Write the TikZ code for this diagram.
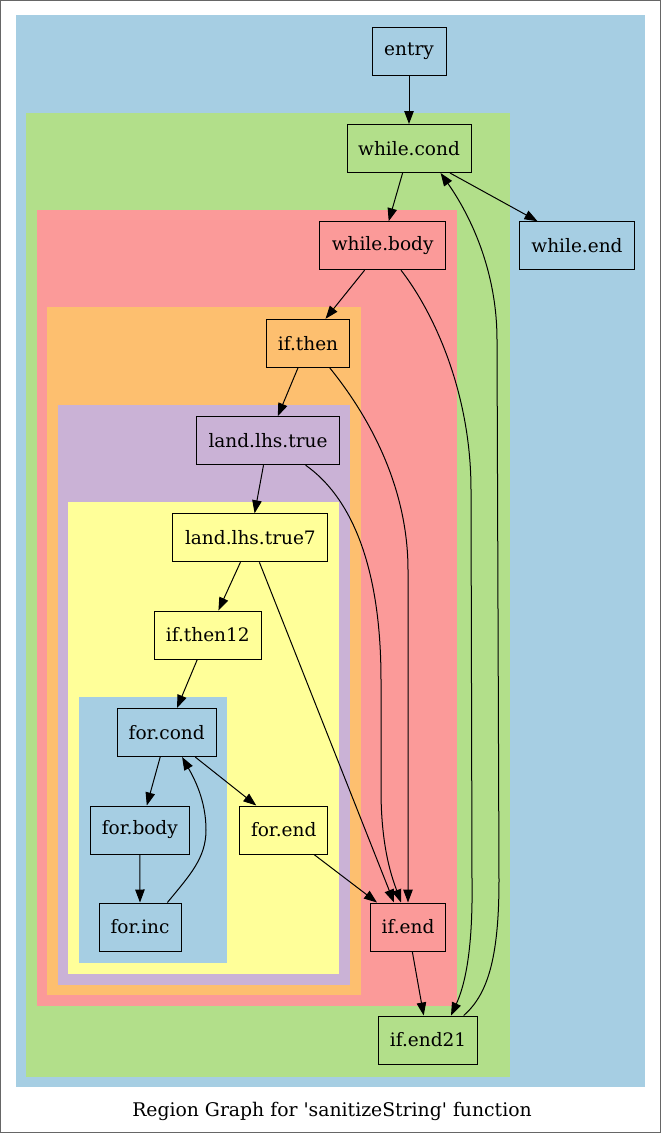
\documentclass[tikz,border=0pt]{standalone}
\usepackage{fontspec}
\setmainfont{DejaVu Serif}
\newfontfamily\plainserif{DejaVu Serif}
\usetikzlibrary{arrows.meta}
\definecolor{cblue}{HTML}{A6CEE3}
\definecolor{cgreen}{HTML}{B2DF8A}
\definecolor{cred}{HTML}{FB9A99}
\definecolor{corange}{HTML}{FDBF6F}
\definecolor{cpurple}{HTML}{CAB2D6}
\definecolor{cyellow}{HTML}{FFFF99}
\begin{document}
\begin{tikzpicture}[x=1pt,y=-1pt,
  blk/.style={draw=black, line width=1pt, minimum height=48pt, inner sep=0pt,
    font=\plainserif\fontsize{18.5}{22}\selectfont, anchor=center},
  edge/.style={line width=1pt, -{Triangle[length=13pt,width=9.5pt]}}]
\useasboundingbox (0,0) rectangle (661,1133);
\fill[white] (0,0) rectangle (661,1133);
\draw[gray!80!black, line width=1pt] (0.5,0.5) rectangle (660.5,1132.5);
% clusters
\fill[cblue]   (15.6,15)  rectangle (645.4,1087);
\fill[cgreen]  (26.1,113) rectangle (510,1076.7);
\fill[cred]    (37.1,210) rectangle (456.6,1006);
\fill[corange] (47.2,307) rectangle (360.5,995);
\fill[cpurple] (57.8,405) rectangle (349.5,984.7);
\fill[cyellow] (68.3,501.7) rectangle (339.4,974);
\fill[cblue]   (79.3,696.7) rectangle (226.8,963);
% nodes
\node[blk, fill=cblue,   minimum width=74pt]   (entry)   at (409,51)      {entry};
\node[blk, fill=cgreen,  minimum width=124pt]  (wcond)   at (409,148.5)   {while.cond};
\node[blk, fill=cred,    minimum width=126pt]  (wbody)   at (382.6,245.7) {while.body};
\node[blk, fill=cblue,   minimum width=115.5pt](wend)    at (577,245.7)   {while.end};
\node[blk, fill=corange, minimum width=83pt]   (ifthen)  at (308,343.3)   {if.then};
\node[blk, fill=cpurple, minimum width=143pt]  (lhs)     at (268,440.7)   {land.lhs.true};
\node[blk, fill=cyellow, minimum width=155pt]  (lhs7)    at (250.4,537.8) {land.lhs.true7};
\node[blk, fill=cyellow, minimum width=107pt]  (then12)  at (207.8,635)   {if.then12};
\node[blk, fill=cblue,   minimum width=99pt]   (fcond)   at (166.7,732.5) {for.cond};
\node[blk, fill=cblue,   minimum width=99pt]   (fbody)   at (139.8,830)   {for.body};
\node[blk, fill=cyellow, minimum width=88.5pt] (fend)    at (283.7,830)   {for.end};
\node[blk, fill=cblue,   minimum width=82pt]   (finc)    at (140,927)     {for.inc};
\node[blk, fill=cred,    minimum width=75.4pt] (ifend)   at (408,927)     {if.end};
\node[blk, fill=cgreen,  minimum width=98.6pt] (ifend21) at (428,1040)    {if.end21};
\node[font=\plainserif\fontsize{18.8}{22}\selectfont] (title) at (332,1111.5) {Region Graph for 'sanitizeString' function};
% edges
\draw[edge] (entry.south) -- (wcond.north);
\draw[edge] ([xshift=-6.4pt]wcond.south) -- ([xshift=6.1pt]wbody.north);
\draw[edge] ([xshift=41pt]wcond.south) -- ([xshift=-39.5pt]wend.north);
\draw[edge] ([xshift=-18pt]wbody.south) -- ([xshift=17.5pt]ifthen.north);
\draw[edge] ([xshift=18.4pt]wbody.south) .. controls (432,310) and (471,390) .. (471,490)
   -- (472,880) .. controls (473,950) and (465,985) .. ([xshift=23pt]ifend21.north);
\draw[edge] ([xshift=35.7pt]ifend21.north) .. controls (487,995) and (499,960) .. (499,880)
   -- (497,340) .. controls (497,270) and (470,215) .. ([xshift=31.6pt]wcond.south);
\draw[edge] ([xshift=-10pt]ifthen.south) -- ([xshift=9.8pt]lhs.north);
\draw[edge] ([xshift=21.7pt]ifthen.south) .. controls (372,420) and (408,490) .. (408,570) -- (ifend.north);
\draw[edge] ([xshift=-4.5pt]lhs.south) -- ([xshift=4.2pt]lhs7.north);
\draw[edge] ([xshift=37.6pt]lhs.south) .. controls (348,495) and (381,560) .. (381,680)
   -- (381,790) .. controls (381,850) and (393,880) .. ([xshift=-7pt]ifend.north);
\draw[edge] ([xshift=-10pt]lhs7.south) -- ([xshift=10.6pt]then12.north);
\draw[edge] ([xshift=9pt]lhs7.south) -- ([xshift=-14pt]ifend.north);
\draw[edge] ([xshift=-10.5pt]then12.south) -- ([xshift=10.3pt]fcond.north);
\draw[edge] ([xshift=-6.5pt]fcond.south) -- ([xshift=7pt]fbody.north);
\draw[edge] ([xshift=28.5pt]fcond.south) -- ([xshift=-27.4pt]fend.north);
\draw[edge] (fbody.south) -- (finc.north);
\draw[edge] ([xshift=27.4pt]finc.north) .. controls (190,875) and (206,858) .. (206,830)
   .. controls (206,800) and (194,778) .. ([xshift=15.4pt]fcond.south);
\draw[edge] ([xshift=30.3pt]fend.south) -- ([xshift=-31pt]ifend.north);
\draw[edge] ([xshift=4.3pt]ifend.south) -- ([xshift=-4.3pt]ifend21.north);
\end{tikzpicture}
\end{document}
